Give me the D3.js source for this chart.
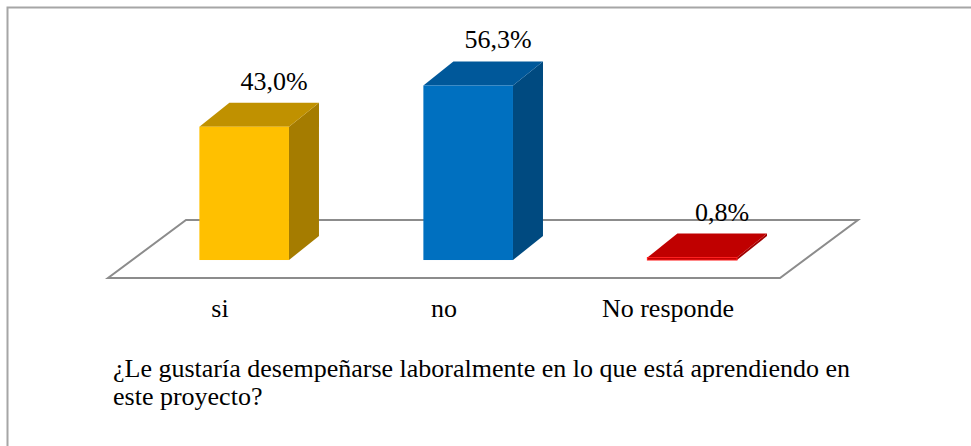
<!DOCTYPE html>
<html>
<head>
<meta charset="utf-8">
<script src="https://cdn.jsdelivr.net/npm/d3@7"></script>
</head>
<body>
<div id="container"></div>
<script>
// data
let categories = ["si", "no", "No responde"];
let values = [43.0, 56.3, 0.8];
let valueLabels = ["43,0%", "56,3%", "0,8%"];
let titleLines = [
  "¿Le gustaría desempeñarse laboralmente en lo que está aprendiendo en",
  "este proyecto?"
];

let frontColors = ["#FFC000", "#0070C0", "#C00000"];
let topColors = ["#C09100", "#00589A", "#C00000"];
let sideColors = ["#A57C00", "#004A80", "#A00000"];

let w = 971;
let h = 446;

d3.select("body").style("margin", "0px");

let viz = d3.select("#container")
  .append("svg")
    .attr("width", w)
    .attr("height", h)
    .attr("font-family", "Liberation Serif")
;

// outer frame
viz.append("rect")
    .attr("x", 7.5)
    .attr("y", 7.5)
    .attr("width", w + 20)
    .attr("height", h + 20)
    .attr("fill", "none")
    .attr("stroke", "#a6a6a6")
    .attr("stroke-width", 2)
;

// floor geometry (front edge of plane + depth offset)
let floorLeft = 108;
let floorRight = 780;
let floorFrontY = 278;
let floorDx = 78;
let floorDy = -58;

// bars sit a bit back on the floor
let barDepthPos = 0.31;
let barDx = 30;
let barDy = -24;
let baseY = floorFrontY + floorDy * barDepthPos;

let xScale = d3.scaleBand()
  .domain(categories)
  .range([floorLeft, floorRight])
  .paddingInner(0)
  .paddingOuter(0)
;

let yScale = d3.scaleLinear().domain([0, 60]).range([baseY, baseY - 186]);

let barW = xScale.bandwidth() * 0.4;

viz.append("polygon")
    .attr("points", [
      [floorLeft, floorFrontY],
      [floorRight, floorFrontY],
      [floorRight + floorDx, floorFrontY + floorDy],
      [floorLeft + floorDx, floorFrontY + floorDy]
    ].map(p => p.join(",")).join(" "))
    .attr("fill", "#fff")
    .attr("stroke", "#8c8c8c")
    .attr("stroke-width", 2)
;

let data = categories.map(function(c, i){
  return {
    name: c,
    value: values[i],
    label: valueLabels[i],
    front: frontColors[i],
    top: topColors[i],
    side: sideColors[i]
  };
});

function barX(d){
  let center = xScale(d.name) + xScale.bandwidth()/2 + floorDx * barDepthPos;
  return center - barW/2;
}

let bars = viz.selectAll(".bar").data(data).enter()
  .append("g")
    .attr("class", "bar")
;

// right side
bars.append("polygon")
    .attr("points", function(d){
      let x1 = barX(d) + barW;
      let yt = yScale(d.value);
      return [[x1, baseY], [x1, yt], [x1 + barDx, yt + barDy], [x1 + barDx, baseY + barDy]]
        .map(p => p.join(",")).join(" ");
    })
    .attr("fill", d => d.side)
;

// top
bars.append("polygon")
    .attr("points", function(d){
      let x0 = barX(d);
      let yt = yScale(d.value);
      return [[x0, yt], [x0 + barW, yt], [x0 + barW + barDx, yt + barDy], [x0 + barDx, yt + barDy]]
        .map(p => p.join(",")).join(" ");
    })
    .attr("fill", d => d.top)
;

// front
bars.append("rect")
    .attr("x", d => barX(d))
    .attr("y", d => yScale(d.value))
    .attr("width", barW)
    .attr("height", d => baseY - yScale(d.value))
    .attr("fill", d => d.front)
    .attr("stroke", function(d, i){ return i == 2 ? "#ff2020" : "none"; })
    .attr("stroke-width", 1)
;

// value labels
bars.append("text")
    .attr("x", d => barX(d) + barW/2 + barDx)
    .attr("y", d => yScale(d.value) + barDy - 13)
    .attr("text-anchor", "middle")
    .attr("font-family", "Liberation Serif")
    .style("font-family", d => "'Liberation Serif'")
    .style("font-size", "26px")
    .text(d => d.label)
;

// category labels
viz.selectAll("text.catlabel").data(categories).enter()
  .append("text")
    .attr("x", d => xScale(d) + xScale.bandwidth()/2)
    .attr("y", 317)
    .attr("text-anchor", "middle")
    .attr("font-family", "Liberation Serif")
    .style("font-family", d => "'Liberation Serif'")
    .style("font-size", "26px")
    .text(d => d)
;

// question below the chart
viz.selectAll("text.question").data(titleLines).enter()
  .append("text")
    .attr("x", 113)
    .attr("y", (d, i) => 377 + i * 28)
    .attr("font-family", "Liberation Serif")
    .style("font-family", d => "'Liberation Serif'")
    .style("font-size", "26px")
    .text(d => d)
;
</script>
</body>
</html>
